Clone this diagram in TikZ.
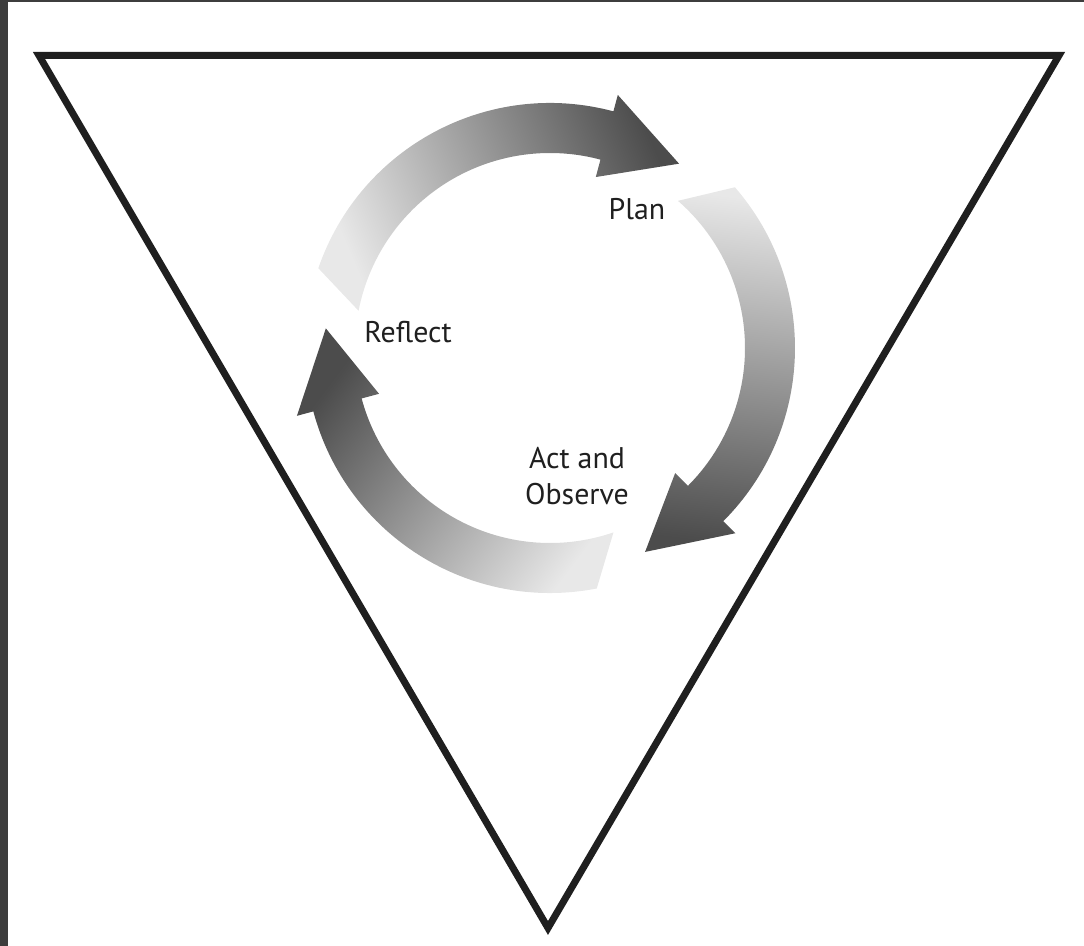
\documentclass[tikz,border=0pt]{standalone}
\usepackage{fontspec}
\setmainfont{PT Sans}
\begin{document}
\begin{tikzpicture}[
    cyclelabel/.style={font=\fontsize{8.5}{10.2}\selectfont, text=black!88, inner sep=0pt, align=center},
    cyclearrow/.style={top color=black!9, bottom color=black!70, draw=none}]
    \useasboundingbox (0,0) rectangle (10.84,9.46);
    %% dark frame
    \fill[black!76] (0,0) rectangle (0.08,9.46);
    \fill[black!76] (0,9.44) rectangle (10.84,9.46);
    %% triangle
    \coordinate (tl) at (0.39,8.905);
    \coordinate (tr) at (10.59,8.905);
    \coordinate (bt) at (5.48,0.18);
    \draw[line width=0.07cm, line join=miter, black!88] (tl) -- (tr) -- (bt) -- cycle;
    %% cycle arrows
    \coordinate (c) at (5.50,5.98);
    \begin{scope}[shift={(c)}]
      \foreach \t/\b/\p/\s in {165/75/55/113, 45/-45/-65/-7, -75/-165/-185/-127}
        \shade[cyclearrow, shading angle=\s]
          (\t+4:1.95) arc[start angle=\t+4, end angle=\b, radius=1.95]
          -- (\b:1.77) -- (\p:2.25) -- (\b:2.62) -- (\b:2.45)
          arc[start angle=\b, end angle=\t-4, radius=2.45] -- cycle;
    \end{scope}
    %% labels
    \node[cyclelabel, anchor=base] (plan) at (6.37,7.26) {Plan};
    \node[cyclelabel, anchor=base] (reflect) at (4.08,6.03) {Reflect};
    \node[cyclelabel] (act) at (5.77,4.70) {Act and\\Observe};
\end{tikzpicture}
\end{document}
